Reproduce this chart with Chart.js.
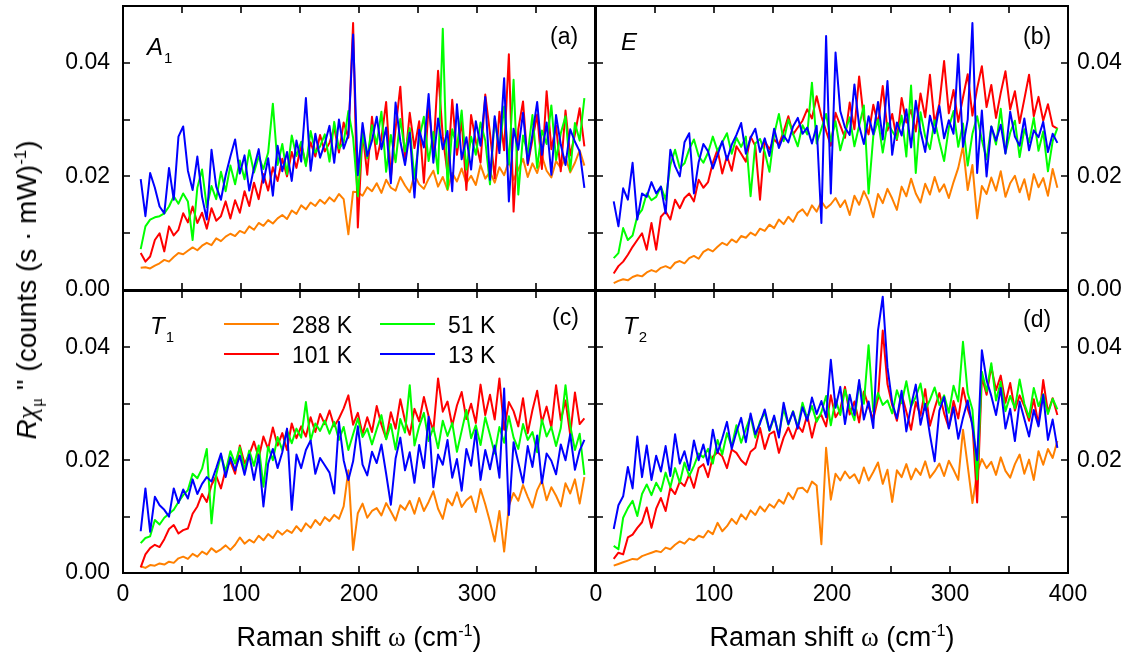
<!DOCTYPE html>
<html>
<head>
<meta charset="utf-8">
<script src="https://cdn.jsdelivr.net/npm/chart.js@4.4.1/dist/chart.umd.min.js"></script>
<style>
html,body{margin:0;padding:0;background:#fff;}
#wrap{position:relative;width:1131px;height:656px;overflow:hidden;font-family:"Liberation Sans",Arial,sans-serif;color:#000;}
canvas{position:absolute;left:0;top:0;}
.t{position:absolute;white-space:nowrap;line-height:1;}
.pl{font-size:23px;}
.sym{font-size:24px;}
.sym i{font-style:italic;}
.sym .s{font-size:15px;position:relative;top:8px;margin-left:1px;}
.gr{font-family:"Liberation Serif","Times New Roman",serif;}
sup{font-size:0.6em;vertical-align:0.6em;line-height:0;}
.xt{font-size:27px;top:624px;transform:translateX(-50%);}
#ytitle{font-size:28px;left:27px;top:290px;transform:translate(-50%,-50%) rotate(-90deg);}
#ytitle sub{font-size:0.6em;vertical-align:-0.35em;line-height:0;}
.lg{position:absolute;height:2px;width:55px;}
.lt{font-size:23px;}
</style>
</head>
<body>
<div id="wrap">
<canvas id="pa" width="1131" height="656"></canvas>
<canvas id="pb" width="1131" height="656"></canvas>
<canvas id="pc" width="1131" height="656"></canvas>
<canvas id="pd" width="1131" height="656"></canvas>
</div>
<script>
// Raman shift (cm^-1)
const shift = [15,19,23,27,31,35,39,43,47,51,55,59,63,67,71,75,79,83,87,91,95,99,103,107,111,115,119,123,127,131,135,139,143,147,151,155,159,163,167,171,175,179,183,187,191,195,199,203,207,211,215,219,223,227,231,235,239,243,247,251,255,259,263,267,271,275,279,283,287,291,295,299,303,307,311,315,319,323,327,331,335,339,343,347,351,355,359,363,367,371,375,379,383,387,391];
const temps = ['288 K', '101 K', '51 K', '13 K'];
const xTickLabels = ['0', '100', '200', '300', '400'];
const yTickLabels = ['0.00', '0.02', '0.04'];

// Response values in units of 1e-3 counts (s·mW)^-1
// Panel (a) A1
const A1_288K = [3.9,4.0,3.8,4.3,4.7,5.3,5.0,5.8,6.5,6.3, 6.9,7.5,7.0,7.8,8.3,7.9,9.1,8.6,9.4,9.9, 9.5,10.4,10.0,11.2,10.6,11.8,11.3,12.3,11.7,12.6, 13.2,12.5,14.0,13.4,14.9,14.2,15.4,14.8,15.9,15.2, 16.3,15.6,16.9,16.0,9.8,17.3,17.2,16.6,18.1,17.4, 18.8,17.1,19.4,18.0,17.5,19.9,18.4,17.2,20.3,18.6, 17.8,19.6,21.0,18.2,19.9,17.6,20.6,19.1,21.4,18.8, 20.1,18.5,22.0,19.6,20.8,18.9,21.6,20.2,22.8,19.4, 21.2,23.1,19.9,22.3,20.6,23.6,21.0,19.8,22.7,21.5, 23.4,20.7,22.4,24.6,21.9];
const A1_101K = [6.5,5.0,5.9,8.8,10.0,6.8,11.2,9.6,10.6,13.5, 11.9,14.7,11.8,13.6,10.8,14.4,12.2,13.0,15.6,12.6, 15.8,13.6,17.4,14.8,18.9,16.0,20.4,17.5,21.6,19.2, 23.1,20.0,24.3,21.5,25.6,22.2,26.0,23.5,27.3,24.4, 25.9,28.6,24.2,29.5,26.8,47.0,11.0,27.9,20.3,30.5, 23.0,26.7,33.1,19.8,28.4,35.8,22.5,31.2,25.0,29.7, 18.9,32.6,24.1,38.6,27.0,20.5,33.5,23.8,29.9,17.6, 30.8,26.2,22.4,34.4,27.6,19.7,31.4,24.6,41.5,13.8, 28.3,33.2,22.0,26.5,30.9,21.3,35.0,24.8,28.9,20.9, 31.6,23.7,27.4,32.0,25.3];
const A1_51K = [7.2,11.2,12.4,12.8,13.0,13.5,14.7,16.5,15.2,17.0, 15.6,8.8,18.0,21.2,14.6,18.3,16.0,20.8,17.4,21.9, 18.6,22.8,19.5,24.6,20.7,23.5,21.3,24.2,32.8,22.0, 25.7,20.4,27.2,23.6,26.1,21.8,28.0,24.2,25.3,27.4, 22.6,29.6,24.9,26.0,31.5,26.8,16.5,27.5,23.2,29.0, 25.7,31.4,20.8,27.3,22.5,30.1,24.4,28.5,19.6,26.6, 30.5,22.7,27.8,20.5,46.0,17.8,28.3,25.1,31.6,21.2, 27.0,23.8,29.5,26.3,18.6,30.2,24.6,32.3,22.1,37.0, 16.8,27.2,24.0,30.8,21.5,28.1,25.7,32.5,22.9,27.6, 30.6,21.0,29.4,26.3,33.8];
const A1_13K = [19.5,13.0,20.6,18.0,14.7,13.5,21.5,15.9,27.0,28.8, 21.0,17.6,23.5,16.4,12.4,24.7,18.2,15.9,20.2,23.5, 26.5,20.5,23.7,17.5,21.5,24.8,18.9,23.2,16.6,25.4, 20.9,24.3,19.2,26.3,22.6,33.8,21.0,27.5,23.3,25.8, 28.9,22.4,30.0,24.9,27.3,45.0,20.2,29.4,23.6,26.3, 30.5,24.8,28.6,18.8,33.0,26.2,22.0,27.7,16.3,28.2, 25.1,34.5,22.4,30.2,24.8,28.0,17.4,32.7,23.0,26.9, 21.2,29.7,25.4,34.0,19.4,30.6,24.1,37.3,15.6,28.4, 24.7,31.2,22.3,27.4,33.1,23.8,29.5,20.3,30.8,25.6, 22.0,28.3,26.1,24.4,18.0];

// Panel (b) E
const E_288K = [1.2,1.6,1.9,1.7,2.3,2.6,2.4,3.1,3.5,3.2, 3.9,4.2,3.8,4.8,5.1,4.7,5.6,6.0,5.5,6.7, 7.2,6.8,7.6,8.3,7.9,8.9,8.4,9.5,9.2,10.1, 9.6,10.8,10.4,11.5,10.9,12.4,11.6,12.9,12.0,13.6, 14.2,13.1,14.9,13.8,15.6,14.4,15.1,16.2,14.6,15.8, 13.2,16.6,15.0,17.4,15.7,12.8,16.9,15.3,17.8,16.1, 14.1,18.2,16.5,19.6,17.0,15.4,18.7,16.8,19.9,17.3, 18.6,16.2,19.0,21.5,25.3,17.6,22.0,12.6,18.3,16.9, 19.8,17.5,20.9,16.4,18.8,20.1,17.2,19.5,15.9,20.4, 18.1,19.7,16.6,21.3,18.0];
const E_101K = [2.9,4.2,5.0,6.2,7.6,8.8,10.0,7.1,11.8,7.1, 12.9,13.8,12.4,15.9,14.4,16.2,17.0,15.6,19.4,18.0, 19.0,22.4,24.7,20.5,23.6,21.0,25.3,24.0,22.6,27.0, 25.4,15.9,26.2,24.8,26.5,25.6,27.9,30.6,27.4,28.6, 29.8,31.8,30.2,34.1,30.6,28.0,25.4,31.2,29.0,26.8, 33.0,28.3,37.6,30.1,27.4,32.6,29.2,35.9,28.1,31.0, 26.4,33.8,29.5,31.7,27.9,34.6,30.4,37.9,29.3,32.8, 40.3,31.1,35.2,29.6,33.9,38.0,30.7,35.5,39.4,32.2, 36.1,30.3,34.7,38.5,31.8,35.0,29.4,33.6,37.9,30.6, 34.0,29.8,32.7,28.9,28.4];
const E_51K = [5.6,6.5,10.9,8.8,9.6,13.0,14.1,17.0,15.8,16.4, 18.2,15.9,22.0,24.7,21.5,22.3,24.8,26.5,23.6,22.4, 24.2,27.0,24.5,26.0,27.6,24.0,26.8,25.2,27.0,16.5, 25.8,26.6,24.3,20.8,27.4,31.0,26.2,30.0,27.5,25.3, 29.0,27.4,36.5,25.8,28.4,31.0,26.2,29.7,24.6,27.8, 30.4,25.3,28.9,32.5,17.0,27.1,30.0,24.2,29.4,28.0, 26.6,30.7,23.5,36.0,20.6,31.3,27.0,24.8,29.9,26.1, 22.7,28.6,31.5,25.2,29.3,21.9,27.5,30.6,26.4,23.0, 28.8,25.6,31.9,24.1,27.7,29.8,23.4,28.3,26.0,30.3, 24.5,27.9,20.9,26.2,28.5];
const E_13K = [15.6,11.2,17.9,15.9,22.4,12.4,17.0,16.4,19.0,17.0, 18.2,13.5,24.7,21.8,20.0,26.0,27.6,17.0,22.5,25.7, 24.4,21.4,23.8,26.2,22.9,25.6,27.3,29.4,24.0,26.8, 28.4,24.3,26.7,23.6,28.4,25.0,27.2,26.0,28.8,30.3, 27.5,28.6,25.8,28.9,11.8,44.7,17.0,41.8,31.5,28.6, 27.3,36.2,28.9,25.7,30.6,27.4,33.1,26.5,36.8,23.8, 29.5,27.2,31.8,25.1,33.3,28.0,24.3,30.7,27.6,32.4, 26.7,29.9,27.5,41.5,25.2,30.0,47.0,20.6,31.6,20.0, 28.8,26.3,29.1,24.0,31.4,27.0,25.4,30.2,24.6,28.1, 26.9,29.6,24.3,27.5,25.9];

// Panel (c) T1
const T1_288K = [1.2,0.9,1.4,1.3,1.7,1.5,2.0,1.8,2.6,2.9, 2.5,3.4,2.9,3.8,3.3,4.4,3.7,4.2,4.9,4.1, 5.0,6.3,5.2,5.9,5.4,6.6,5.8,6.9,6.2,7.5, 6.8,7.6,7.1,8.3,7.4,8.8,8.0,9.4,8.5,9.9, 9.2,10.3,9.6,11.8,18.2,4.1,10.6,12.3,9.8,11.0, 11.5,10.2,12.4,10.9,9.3,12.0,11.2,12.8,10.5,13.3, 11.0,12.6,14.5,11.4,9.6,13.1,12.0,14.3,11.7,12.9, 13.6,10.8,14.9,12.2,9.1,5.6,11.0,3.8,11.9,14.2, 12.8,15.6,13.5,11.6,14.7,16.4,12.9,15.2,13.7,11.8, 15.9,14.1,16.6,12.3,17.0];
const T1_101K = [1.0,3.3,4.4,5.0,4.6,6.0,7.8,8.5,7.0,7.6, 7.9,10.5,11.8,14.0,12.6,15.6,17.2,15.0,18.4,19.8, 17.6,22.6,19.4,21.0,23.3,20.4,24.2,22.0,25.8,22.6, 24.8,21.8,26.5,23.9,26.0,24.2,27.6,25.0,28.2,26.4, 28.8,26.0,27.4,29.2,31.5,26.3,28.4,24.6,27.6,25.0, 29.6,26.3,23.8,28.5,25.6,30.8,27.0,24.5,29.1,26.9, 31.2,27.8,25.2,34.5,28.6,30.4,26.1,29.7,32.1,27.3, 30.0,26.6,33.4,28.0,31.6,27.2,34.5,25.4,30.3,28.7, 26.0,31.0,24.8,28.9,32.3,26.7,29.5,25.8,33.3,27.1, 30.6,24.5,32.0,26.4,27.4];
const T1_51K = [5.3,6.2,6.5,9.4,8.6,9.8,10.5,11.2,12.6,13.8, 14.7,17.6,16.8,18.5,22.0,8.8,17.4,20.9,18.0,21.6, 19.4,22.3,18.3,21.7,19.0,22.6,15.3,22.4,20.0,24.1, 21.8,25.3,23.0,25.6,24.0,30.3,23.5,26.5,25.2,27.0, 24.7,26.8,23.6,25.9,21.8,24.6,27.4,24.1,25.6,22.8, 25.5,28.0,23.7,26.4,21.9,27.3,24.9,33.3,22.6,26.0, 28.4,23.4,25.8,22.1,27.0,24.3,26.6,21.5,25.2,28.9, 23.9,26.2,22.7,27.6,24.5,21.2,25.9,23.1,27.8,24.0, 22.0,26.4,23.6,25.0,21.4,27.2,24.2,25.9,22.5,25.7, 33.3,26.1,21.8,24.7,17.4];
const T1_13K = [7.4,15.0,7.3,13.5,12.0,11.2,10.0,15.0,12.4,14.8, 13.2,16.6,14.0,15.8,17.0,16.2,18.6,21.2,17.0,20.5, 18.2,20.8,17.4,21.0,16.5,20.9,11.8,19.4,22.0,18.6, 21.4,25.6,11.2,21.0,18.6,21.8,23.5,17.6,20.4,19.1, 17.8,14.1,26.8,20.0,16.5,19.8,26.0,19.2,17.3,21.5, 19.5,22.8,17.6,12.1,20.3,24.0,18.2,21.4,16.0,22.7, 18.6,27.7,15.2,21.0,19.2,23.6,16.9,20.2,14.6,22.0, 19.0,25.3,16.5,21.8,18.4,22.6,16.9,32.7,10.3,23.2, 19.6,16.0,22.5,18.8,24.4,15.9,21.2,19.9,17.5,22.8, 20.0,24.6,18.3,21.7,23.6];

// Panel (d) T2
const T2_288K = [1.3,1.6,1.9,2.2,2.5,2.4,3.0,3.3,3.6,3.9, 3.7,4.5,4.2,5.0,5.6,5.2,6.1,5.8,6.6,6.3, 7.5,6.9,8.9,7.4,8.3,9.6,8.7,10.4,9.5,11.1, 10.3,11.8,10.9,12.2,11.6,13.0,12.3,14.2,13.1,15.0, 15.1,14.3,16.2,15.5,5.1,22.2,13.0,17.6,16.4,18.0, 16.8,17.5,15.9,18.7,16.4,17.9,19.6,15.8,18.3,12.6, 18.2,17.0,19.3,16.6,18.5,17.4,19.8,16.9,18.0,19.4, 17.2,19.9,18.3,16.5,25.4,19.0,12.4,17.8,20.2,18.6, 19.7,17.4,20.5,18.1,16.9,19.3,21.0,17.6,20.1,16.5, 21.6,19.2,22.0,20.4,23.4];
const T2_101K = [2.5,3.6,3.3,6.3,6.8,8.0,9.0,11.6,8.0,11.4, 13.3,11.0,15.1,14.0,16.2,15.4,17.5,15.1,18.6,19.3, 17.0,20.6,21.4,20.7,18.6,21.9,21.3,20.0,19.2,21.5, 22.2,25.7,22.0,24.6,25.1,21.3,24.0,25.8,23.8,26.2, 25.0,28.0,24.0,27.4,28.0,26.0,31.5,27.6,29.0,33.0, 28.1,30.4,26.7,32.2,29.5,27.3,31.0,43.0,33.5,29.8, 27.0,31.7,28.6,25.4,30.3,27.9,32.6,26.1,29.2,31.9, 28.3,25.7,30.5,27.4,32.8,29.1,26.5,12.5,34.8,31.6, 36.6,32.4,35.0,30.2,33.7,28.8,31.5,29.6,27.0,30.8, 26.3,34.2,28.5,31.0,28.0];
const T2_51K = [4.8,4.2,9.8,11.5,12.8,10.1,14.0,15.7,13.8,16.0, 14.5,17.8,15.2,18.6,16.0,19.6,17.2,19.0,21.2,20.5, 22.0,19.4,23.6,21.0,24.8,22.5,26.2,23.1,25.5,27.8, 24.0,26.9,28.4,25.2,27.6,24.6,29.1,26.3,28.7,25.9, 30.2,27.4,29.6,26.8,28.5,31.4,26.2,30.8,28.0,32.5, 29.3,27.1,33.6,30.0,40.4,28.6,31.9,29.8,30.6,28.3, 32.4,30.1,34.0,29.5,31.2,33.6,28.9,30.7,32.9,29.8, 31.5,28.4,33.2,30.4,41.0,31.9,29.0,16.6,35.7,32.2, 37.2,30.6,33.9,28.7,31.4,29.2,34.3,30.0,27.6,32.8, 29.6,31.7,28.2,30.9,29.0];
const T2_13K = [7.8,12.0,13.6,18.8,15.0,24.2,17.0,22.6,16.5,20.8, 18.0,22.5,17.2,24.6,19.4,21.6,18.2,23.5,20.0,22.8, 19.2,25.4,21.3,23.9,26.8,22.0,25.0,27.5,23.2,28.3, 24.6,26.5,29.0,25.3,27.9,24.0,30.2,26.4,28.6,25.6, 29.4,27.0,31.1,28.2,30.5,27.6,37.8,29.3,33.0,26.4, 31.6,28.0,34.2,27.2,30.4,25.7,43.0,49.0,36.5,30.2, 27.4,32.3,25.1,29.6,33.4,26.3,30.0,24.5,19.8,28.8, 31.2,25.6,29.4,23.8,27.5,30.6,26.0,20.0,39.5,34.2, 31.4,28.0,32.8,25.6,29.1,23.4,30.4,27.3,24.2,28.9, 26.0,31.6,23.6,27.2,22.2];

const colors = ['#ff8000', '#ff0000', '#00ff00', '#0000ff'];
const FONT = {family: '"Liberation Sans", Arial, sans-serif', size: 23};

const inwardTicks = {
  id: 'inwardTicks',
  afterDatasetsDraw(chart) {
    const ctx = chart.ctx, a = chart.chartArea, L = 7;
    ctx.save();
    ctx.strokeStyle = '#000';
    ctx.lineWidth = 1.6;
    ctx.beginPath();
    Object.values(chart.scales).forEach(s => {
      s.ticks.forEach(t => {
        const p = Math.round(s.getPixelForValue(t.value));
        if (s.isHorizontal()) {
          if (s.position === 'bottom') { ctx.moveTo(p, a.bottom); ctx.lineTo(p, a.bottom - L); }
          else { ctx.moveTo(p, a.top); ctx.lineTo(p, a.top + L); }
        } else {
          if (s.position === 'left') { ctx.moveTo(a.left, p); ctx.lineTo(a.left + L, p); }
          else { ctx.moveTo(a.right, p); ctx.lineTo(a.right - L, p); }
        }
      });
    });
    ctx.stroke();
    ctx.restore();
  }
};

function xLabel(allowed) {
  return v => { const s = String(Math.round(v)); return allowed.includes(s) ? s : ''; };
}
function yLabel(allowed) {
  return v => { const s = (Math.round(v * 100) / 100).toFixed(2); return allowed.includes(s) ? s : ''; };
}

function axis(pos, isX, labels, size, pad) {
  return {
    type: 'linear', position: pos,
    min: 0, max: isX ? 400 : 0.05,
    grid: {display: false, drawTicks: false},
    border: {display: true, color: '#000', width: 2},
    ticks: {
      display: !!labels, stepSize: isX ? 50 : 0.01, autoSkip: false, maxRotation: 0,
      padding: pad, color: '#000', font: FONT,
      callback: labels ? (isX ? xLabel(labels) : yLabel(labels)) : () => ''
    },
    afterFit: s => {
      if (isX) s.height = size; else s.width = size;
      s.paddingTop = 0; s.paddingBottom = 0; s.paddingLeft = 0; s.paddingRight = 0;
    }
  };
}

function panel(id, series, box, lab) {
  const [L, T, R, B] = box;
  const W = 1131, H = 656;
  const yl = lab.yl ? 70 : 0, yr = lab.yr ? 70 : 0, xb = lab.xb ? 50 : 0;
  new Chart(document.getElementById(id), {
    type: 'line',
    data: {
      datasets: series.map((vals, i) => ({
        label: temps[i],
        data: shift.map((x, j) => ({x: x, y: vals[j] / 1000})),
        borderColor: colors[i], backgroundColor: colors[i],
        borderWidth: 2, pointRadius: 0, tension: 0, fill: false,
        borderJoinStyle: 'round', order: 4 - i
      }))
    },
    options: {
      responsive: false, animation: false, events: [],
      layout: {padding: {left: L - yl, right: W - R - yr, top: T, bottom: H - B - xb}},
      plugins: {legend: {display: false}, tooltip: {enabled: false}},
      scales: {
        x: axis('bottom', true, lab.xb, xb, 8),
        xt: axis('top', true, null, 0, 0),
        y: axis('left', false, lab.yl, yl, 13),
        yr: axis('right', false, lab.yr, yr, 9)
      }
    },
    plugins: [inwardTicks]
  });
}

panel('pa', [A1_288K, A1_101K, A1_51K, A1_13K], [123, 6, 595, 290], {yl: yTickLabels});
panel('pb', [E_288K, E_101K, E_51K, E_13K], [596, 6, 1068, 290], {yr: yTickLabels});
panel('pc', [T1_288K, T1_101K, T1_51K, T1_13K], [123, 291, 595, 573], {yl: yTickLabels, xb: xTickLabels.slice(0, 4)});
panel('pd', [T2_288K, T2_101K, T2_51K, T2_13K], [596, 291, 1068, 573], {yr: yTickLabels.slice(1), xb: xTickLabels});

// text overlays
const wrap = document.getElementById('wrap');
function addText(cls, left, top, html, id) {
  const d = document.createElement('div');
  d.className = 't ' + cls;
  if (id) d.id = id;
  if (left !== null) d.style.left = left + 'px';
  if (top !== null) d.style.top = top + 'px';
  d.innerHTML = html;
  wrap.appendChild(d);
}
addText('sym', 147, 35, '<i>A</i><span class="s">1</span>');
addText('sym', 621, 30, '<i>E</i>');
addText('sym', 150, 314, '<i>T</i><span class="s">1</span>');
addText('sym', 623, 314, '<i>T</i><span class="s">2</span>');
addText('pl', 550, 25, '(a)');
addText('pl', 1023, 25, '(b)');
addText('pl', 552, 306, '(c)');
addText('pl', 1023, 308, '(d)');
addText('xt', 359, null, 'Raman shift <span class="gr">ω</span> (cm<sup>-1</sup>)');
addText('xt', 832, null, 'Raman shift <span class="gr">ω</span> (cm<sup>-1</sup>)');
addText('', null, null, '<i>R</i><i class="gr">χ</i><sub class="gr">μ</sub> \'\' (counts (s · mW)<sup>-1</sup>)', 'ytitle');

// legend (panel c)
const legPos = [[224, 324, 292, 314], [224, 354, 292, 344], [380, 324, 448, 314], [380, 354, 448, 344]];
temps.forEach((t, i) => {
  const [lx, ly, tx, ty] = legPos[i];
  const ln = document.createElement('div');
  ln.className = 'lg';
  ln.style.left = lx + 'px'; ln.style.top = (ly - 1) + 'px'; ln.style.background = colors[i];
  wrap.appendChild(ln);
  addText('lt', tx, ty, t);
});
</script>
</body>
</html>
